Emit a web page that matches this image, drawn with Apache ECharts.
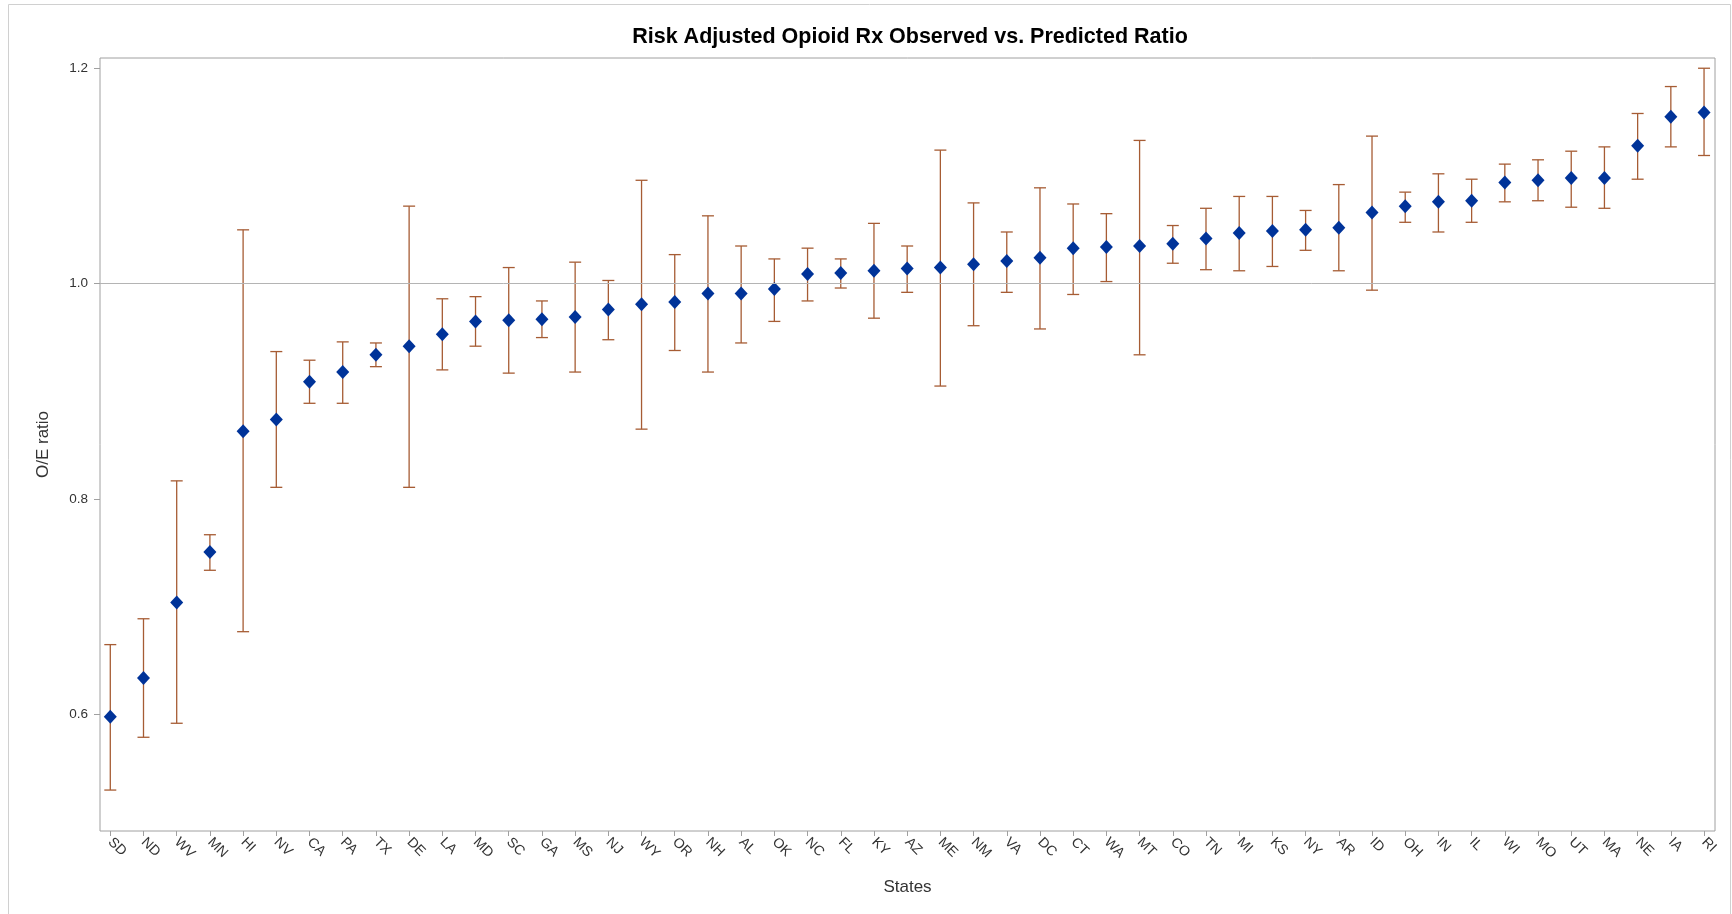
<!DOCTYPE html>
<html>
<head>
<meta charset="utf-8">
<script src="https://cdn.jsdelivr.net/npm/echarts@6/dist/echarts.min.js"></script>
<style>
  html, body { margin: 0; padding: 0; background: #fff; }
  #chart { width: 1732px; height: 914px; }
</style>
</head>
<body>
<div id="chart"></div>
<script>
// states, sorted by observed/predicted ratio
var states = ['SD', 'ND', 'WV', 'MN', 'HI', 'NV', 'CA', 'PA', 'TX', 'DE', 'LA', 'MD', 'SC', 'GA', 'MS', 'NJ', 'WY',
  'OR', 'NH', 'AL', 'OK', 'NC', 'FL', 'KY', 'AZ', 'ME', 'NM', 'VA', 'DC', 'CT', 'WA', 'MT', 'CO', 'TN', 'MI', 'KS',
  'NY', 'AR', 'ID', 'OH', 'IN', 'IL', 'WI', 'MO', 'UT', 'MA', 'NE', 'IA', 'RI'];

var ratio = [0.598, 0.634, 0.704, 0.751, 0.863, 0.874, 0.909, 0.918, 0.934, 0.942, 0.953, 0.965, 0.966, 0.967, 0.969, 0.976, 0.981,
  0.983, 0.991, 0.991, 0.995, 1.009, 1.010, 1.012, 1.014, 1.015, 1.018, 1.021, 1.024, 1.033, 1.034, 1.035, 1.037, 1.042, 1.047, 1.049,
  1.050, 1.052, 1.066, 1.072, 1.076, 1.077, 1.094, 1.096, 1.098, 1.098, 1.128, 1.155, 1.159];

var lower = [0.530, 0.579, 0.592, 0.734, 0.677, 0.811, 0.889, 0.889, 0.923, 0.811, 0.920, 0.942, 0.917, 0.950, 0.918, 0.948, 0.865,
  0.938, 0.918, 0.945, 0.965, 0.984, 0.996, 0.968, 0.992, 0.905, 0.961, 0.992, 0.958, 0.990, 1.002, 0.934, 1.019, 1.013, 1.012, 1.016,
  1.031, 1.012, 0.994, 1.057, 1.048, 1.057, 1.076, 1.077, 1.071, 1.070, 1.097, 1.127, 1.119];

var upper = [0.665, 0.689, 0.817, 0.767, 1.050, 0.937, 0.929, 0.946, 0.945, 1.072, 0.986, 0.988, 1.015, 0.984, 1.020, 1.003, 1.096,
  1.027, 1.063, 1.035, 1.023, 1.033, 1.023, 1.056, 1.035, 1.124, 1.075, 1.048, 1.089, 1.074, 1.065, 1.133, 1.054, 1.070, 1.081, 1.081,
  1.068, 1.092, 1.137, 1.085, 1.102, 1.097, 1.111, 1.115, 1.123, 1.127, 1.158, 1.183, 1.200];

var yTicks = [0.6, 0.8, 1.0, 1.2];
var refLine = 1.0;

var FONT = 'Liberation Sans, Arial, sans-serif';
var chart = echarts.init(document.getElementById('chart'), null, { renderer: 'canvas' });

var idx = states.map(function (s, i) { return i; });
var points = idx.map(function (i) { return [i, ratio[i]]; });
var bars = idx.map(function (i) { return [i, lower[i], upper[i]]; });

function renderBar(params, api) {
  var x = api.value(0);
  var lo = api.coord([x, api.value(1)]);
  var hi = api.coord([x, api.value(2)]);
  var half = 6;
  var style = { stroke: '#a65c34', lineWidth: 1.3 };
  return {
    type: 'group',
    children: [
      { type: 'line', shape: { x1: lo[0], y1: lo[1], x2: hi[0], y2: hi[1] }, style: style },
      { type: 'line', shape: { x1: lo[0] - half, y1: lo[1], x2: lo[0] + half, y2: lo[1] }, style: style },
      { type: 'line', shape: { x1: hi[0] - half, y1: hi[1], x2: hi[0] + half, y2: hi[1] }, style: style }
    ]
  };
}

var option = {
  backgroundColor: '#fff',
  animation: false,
  title: {
    text: 'Risk Adjusted Opioid Rx Observed vs. Predicted Ratio',
    left: 905,
    textAlign: 'center',
    top: 21,
    textStyle: { fontFamily: FONT, fontSize: 21.5, fontWeight: 'bold', color: '#000' }
  },
  graphic: [{
    type: 'rect',
    shape: { x: 8.5, y: 4.5, width: 1722, height: 912 },
    style: { fill: null, stroke: '#d0d0d0', lineWidth: 1 },
    silent: true
  }],
  grid: {
    left: 100, top: 58, width: 1615, height: 773,
    show: true, borderColor: '#a0a0a0', borderWidth: 1
  },
  xAxis: {
    type: 'value',
    min: -0.31, max: 48.33,
    name: 'States',
    nameLocation: 'middle',
    nameGap: 48,
    nameTextStyle: { fontFamily: FONT, fontSize: 17, color: '#333' },
    axisLine: { show: false, onZero: false },
    splitLine: { show: false },
    axisTick: { show: true, length: 5, customValues: idx, lineStyle: { color: '#a0a0a0' } },
    axisLabel: {
      customValues: idx,
      rotate: -45,
      margin: 9,
      fontFamily: FONT, fontSize: 14, color: '#333',
      formatter: function (v) { return states[Math.round(v)]; }
    }
  },
  yAxis: {
    type: 'value',
    min: 0.492, max: 1.2095,
    name: 'O/E ratio',
    nameLocation: 'middle',
    nameGap: 48,
    nameTextStyle: { fontFamily: FONT, fontSize: 17, color: '#333' },
    axisLine: { show: false, onZero: false },
    splitLine: { show: false },
    axisTick: { show: true, length: 6, customValues: yTicks, lineStyle: { color: '#a0a0a0' } },
    axisLabel: {
      customValues: yTicks,
      margin: 12,
      fontFamily: FONT, fontSize: 13.5, color: '#333',
      formatter: function (v) { return v.toFixed(1); }
    }
  },
  series: [
    {
      type: 'custom',
      name: 'CI',
      renderItem: renderBar,
      data: bars,
      encode: { x: 0, y: [1, 2] },
      z: 2
    },
    {
      type: 'scatter',
      name: 'O/E',
      data: points,
      symbol: 'diamond',
      symbolSize: [13, 14],
      itemStyle: { color: '#003399', opacity: 1 },
      z: 3,
      markLine: {
        silent: true,
        symbol: 'none',
        label: { show: false },
        lineStyle: { color: '#b4b4b4', type: 'solid', width: 1 },
        data: [{ yAxis: refLine }]
      }
    }
  ]
};

chart.setOption(option);
</script>
</body>
</html>
